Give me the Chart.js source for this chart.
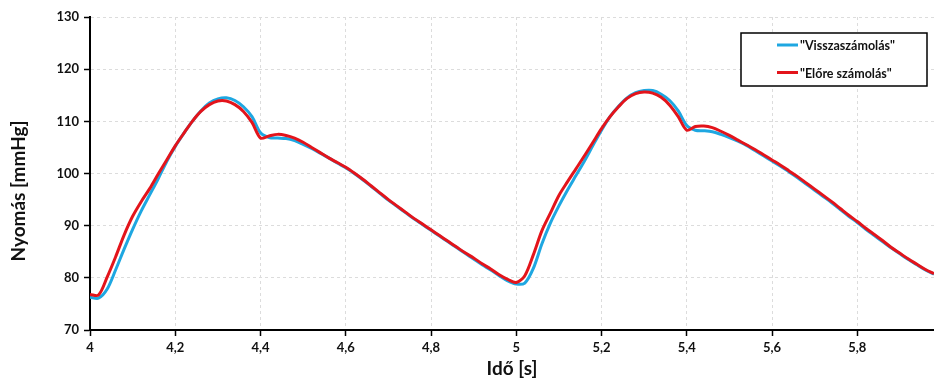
<!DOCTYPE html>
<html>
<head>
<meta charset="utf-8">
<script src="https://cdn.jsdelivr.net/npm/chart.js@4.4.0/dist/chart.umd.min.js"></script>
<style>
  html, body { margin: 0; padding: 0; background: #fff; }
  #wrap { width: 934px; height: 380px; position: relative; }
</style>
</head>
<body>
<div id="wrap"><canvas id="chart"></canvas></div>
<script>
// time [s]
const times = [
  4.00, 4.02, 4.04, 4.06, 4.08, 4.10, 4.12, 4.14, 4.16, 4.18,
  4.20, 4.22, 4.24, 4.26, 4.28, 4.30, 4.32, 4.34, 4.36, 4.38,
  4.40, 4.42, 4.44, 4.46, 4.48, 4.50, 4.52, 4.54, 4.56, 4.58,
  4.60, 4.62, 4.64, 4.66, 4.68, 4.70, 4.72, 4.74, 4.76, 4.78,
  4.80, 4.82, 4.84, 4.86, 4.88, 4.90, 4.92, 4.94, 4.96, 4.98,
  5.00, 5.02, 5.04, 5.06, 5.08, 5.10, 5.12, 5.14, 5.16, 5.18,
  5.20, 5.22, 5.24, 5.26, 5.28, 5.30, 5.32, 5.34, 5.36, 5.38,
  5.40, 5.42, 5.44, 5.46, 5.48, 5.50, 5.52, 5.54, 5.56, 5.58,
  5.60, 5.62, 5.64, 5.66, 5.68, 5.70, 5.72, 5.74, 5.76, 5.78,
  5.80, 5.82, 5.84, 5.86, 5.88, 5.90, 5.92, 5.94, 5.96, 5.98
];

// pressure [mmHg], backward calculation
const visszaszamolas = [
  76.3, 76.1, 77.8, 81.5, 85.5, 89.3, 92.8, 95.9, 99.0, 102.3,
  105.2, 107.7, 110.0, 112.0, 113.5, 114.3, 114.5, 114.0, 112.8, 110.9,
  107.8, 106.9, 106.8, 106.7, 106.3, 105.6, 104.8, 103.9, 103.0, 102.0,
  101.1, 100.0, 98.8, 97.5, 96.2, 94.9, 93.7, 92.5, 91.3, 90.2,
  89.1, 88.0, 86.9, 85.8, 84.7, 83.6, 82.5, 81.5, 80.4, 79.4,
  78.8, 79.0, 81.8, 86.5, 90.5, 93.8, 96.8, 99.6, 102.4, 105.4,
  108.3, 110.9, 112.9, 114.5, 115.5, 115.9, 115.9, 115.2, 114.0, 112.0,
  109.2, 108.3, 108.2, 108.0, 107.5, 106.9, 106.2, 105.4, 104.4, 103.4,
  102.4, 101.4, 100.3, 99.2, 98.0, 96.8, 95.6, 94.4, 93.1, 91.8,
  90.6, 89.3, 88.1, 86.9, 85.7, 84.6, 83.5, 82.5, 81.5, 80.7
];

// pressure [mmHg], forward calculation
const eloreSzamolas = [
  76.8, 76.7, 80.1, 84.0, 88.2, 91.8, 94.6, 97.1, 99.9, 102.6,
  105.3, 107.7, 110.0, 111.9, 113.2, 113.9, 113.9, 113.2, 111.9, 109.8,
  106.8, 107.2, 107.5, 107.3, 106.8, 106.0, 105.0, 104.0, 103.0, 102.1,
  101.2, 100.1, 98.9, 97.6, 96.3, 95.0, 93.8, 92.6, 91.4, 90.3,
  89.2, 88.1, 87.0, 85.9, 84.8, 83.8, 82.7, 81.7, 80.6, 79.7,
  79.1, 80.4, 84.4, 89.0, 92.4, 95.8, 98.4, 100.9, 103.4, 106.0,
  108.6, 110.9, 112.8, 114.4, 115.3, 115.6, 115.4, 114.6, 113.1, 110.9,
  108.3, 109.0, 109.1, 108.8, 108.1, 107.3, 106.4, 105.5, 104.6, 103.6,
  102.6, 101.6, 100.5, 99.4, 98.2, 97.0, 95.8, 94.6, 93.3, 92.0,
  90.8, 89.5, 88.3, 87.1, 85.8, 84.7, 83.6, 82.6, 81.6, 80.8
];

const seriesNames = ['"Visszaszámolás"', '"Előre számolás"'];
const yTitle = 'Nyomás [mmHg]';
const xTitle = 'Idő [s]';

const FONT = 'Lato, "Open Sans", sans-serif';
const BLUE = '#1ea7e1';
const RED = '#e3141b';
const INK = '#111';

const toPoints = (vals) => times.map((t, i) => ({ x: t, y: vals[i] }));
const comma = (v) => String(Number(v.toFixed(1))).replace('.', ',');

// boxed legend in the upper right corner
const boxedLegend = {
  id: 'boxedLegend',
  afterDatasetsDraw(chart) {
    const ctx = chart.ctx;
    const x = 741, y = 33, w = 186, h = 53;
    ctx.save();
    ctx.fillStyle = '#fff';
    ctx.fillRect(x, y, w, h);
    ctx.strokeStyle = '#000';
    ctx.lineWidth = 1.5;
    ctx.strokeRect(x, y, w, h);
    ctx.font = 'bold 12.5px ' + FONT;
    ctx.textBaseline = 'middle';
    chart.data.datasets.forEach((ds, i) => {
      const ly = y + 12 + i * 27.5;
      ctx.strokeStyle = ds.borderColor;
      ctx.lineWidth = 3;
      ctx.beginPath();
      ctx.moveTo(x + 36, ly);
      ctx.lineTo(x + 57, ly);
      ctx.stroke();
      ctx.fillStyle = INK;
      ctx.fillText(ds.label, x + 59, ly + 1);
    });
    ctx.restore();
  }
};

// axis titles
const axisTitles = {
  id: 'axisTitles',
  afterDraw(chart) {
    const ctx = chart.ctx;
    ctx.save();
    ctx.fillStyle = INK;
    ctx.font = 'bold 19px ' + FONT;
    ctx.textAlign = 'center';
    ctx.textBaseline = 'middle';
    ctx.fillText(xTitle, (chart.chartArea.left + chart.chartArea.right) / 2, 369);
    ctx.translate(19, 191);
    ctx.rotate(-Math.PI / 2);
    ctx.fillText(yTitle, 0, 0);
    ctx.restore();
  }
};

const gridStyle = {
  color: '#dcdcdc',
  lineWidth: 1,
  tickColor: '#000',
  tickLength: 6,
  tickWidth: 1.5
};

const config = {
  type: 'line',
  data: {
    datasets: [
      {
        label: seriesNames[0],
        data: toPoints(visszaszamolas),
        borderColor: BLUE,
        backgroundColor: BLUE,
        borderWidth: 3,
        pointRadius: 0,
        tension: 0.3,
        order: 1
      },
      {
        label: seriesNames[1],
        data: toPoints(eloreSzamolas),
        borderColor: RED,
        backgroundColor: RED,
        borderWidth: 3,
        pointRadius: 0,
        tension: 0.3,
        order: 0
      }
    ]
  },
  options: {
    responsive: true,
    maintainAspectRatio: false,
    animation: false,
    layout: { padding: { top: 17, right: 0, left: 0, bottom: 0 } },
    plugins: {
      legend: { display: false },
      tooltip: { enabled: false }
    },
    scales: {
      x: {
        type: 'linear',
        min: 4,
        max: 5.98,
        afterBuildTicks: (scale) => {
          scale.ticks = scale.ticks.filter(t => Math.abs(t.value * 5 - Math.round(t.value * 5)) < 1e-6);
        },
        afterFit: (scale) => { scale.height = 50; },
        ticks: {
          stepSize: 0.2,
          padding: 4,
          color: INK,
          font: { family: FONT, size: 13, weight: 'bold' },
          callback: (v) => comma(v),
          maxRotation: 0
        },
        grid: gridStyle,
        border: { color: '#000', width: 2, dash: [3, 3] }
      },
      y: {
        min: 70,
        max: 130,
        afterFit: (scale) => { scale.width = 90; },
        ticks: {
          stepSize: 10,
          padding: 5,
          color: INK,
          font: { family: FONT, size: 13, weight: 'bold' }
        },
        grid: gridStyle,
        border: { color: '#000', width: 2, dash: [3, 3] }
      }
    }
  },
  plugins: [boxedLegend, axisTitles]
};

const myChart = new Chart(document.getElementById('chart'), config);
</script>
</body>
</html>
